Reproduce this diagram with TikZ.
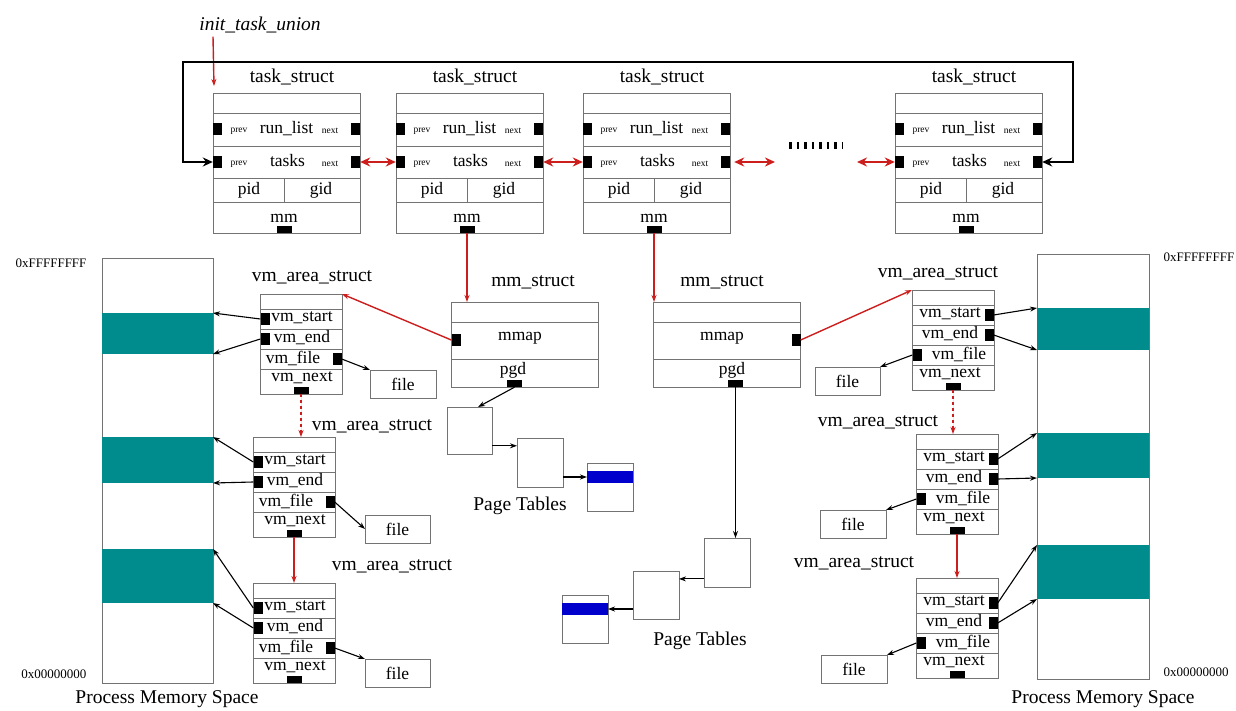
\documentclass[tikz,border=0pt]{standalone}
\usepackage{fontspec}
\setmainfont{Liberation Serif}
\usetikzlibrary{arrows.meta}
\definecolor{ptrred}{RGB}{205,30,30}
\definecolor{segteal}{RGB}{0,140,140}
\definecolor{pageblue}{RGB}{0,0,205}

% one task_struct: name, left x
\newcommand{\taskbox}[2]{%
  \node[box, anchor=north west, minimum width=147pt, minimum height=140pt] (#1) at (#2,93) {};
  \node[lbl] at (#2+79,77) {task\_struct};
  \foreach \yy in {113,146,178,202}
    \draw[sepline] (#2,\yy) -- (#2+147,\yy);
  \draw[sepline] (#2+71,178) -- (#2+71,202);
  \node[sq] (#1-rp) at (#2+4.5,129.5) {};
  \node[sq] (#1-rn) at (#2+142.5,129.5) {};
  \node[sq] (#1-tp) at (#2+4.5,162) {};
  \node[sq] (#1-tn) at (#2+142.5,162) {};
  \node[ptr] (#1-mm) at (#2+71,229.5) {};
  \node[tag] at (#2+26,131) {prev};
  \node[tag] at (#2+117,131) {next};
  \node[txt] at (#2+73.5,129) {run\_list};
  \node[tag] at (#2+26,164) {prev};
  \node[tag] at (#2+117,164) {next};
  \node[txt] at (#2+74.5,161) {tasks};
  \node[txt] at (#2+36,190) {pid};
  \node[txt] at (#2+108,190) {gid};
  \node[txt] at (#2+71,218) {mm};
}

% one vm_area_struct: name, x, y, start/end square, file square, text, file text
\newcommand{\vmbox}[7]{%
  \node[box, anchor=north west, minimum width=82pt, minimum height=100pt] (#1) at (#2,#3) {};
  \foreach \yy in {15,35,55,75}
    \draw[sepline] (#2,#3+\yy) -- (#2+82,#3+\yy);
  \node[sq] (#1-s) at (#2+#4,#3+25) {};
  \node[sq] (#1-e) at (#2+#4,#3+45) {};
  \node[sq] (#1-f) at (#2+#5,#3+65) {};
  \node[ptr] (#1-n) at (#2+41,#3+96.5) {};
  \node[txt] at (#2+#6,#3+24) {vm\_start};
  \node[txt] at (#2+#6,#3+44) {vm\_end};
  \node[txt] at (#2+#7,#3+64) {vm\_file};
  \node[txt] at (#2+#6,#3+84) {vm\_next};
}

\begin{document}
\begin{tikzpicture}[x=1pt, y=-1pt, >={Stealth[length=7pt, width=5pt]},
  box/.style={draw=black!55, line width=0.8pt, inner sep=0pt, outer sep=0pt},
  sepline/.style={draw=black!55, line width=0.8pt},
  sq/.style={fill=black, inner sep=0pt, minimum width=9pt, minimum height=12pt},
  ptr/.style={fill=black, inner sep=0pt, minimum width=15pt, minimum height=7pt},
  band/.style={fill=segteal, inner sep=0pt, outer sep=0pt, anchor=north west, minimum width=111pt},
  pageband/.style={fill=pageblue, inner sep=0pt, outer sep=0pt, anchor=north west, minimum width=46pt, minimum height=12pt},
  lbl/.style={font=\fontsize{19.5}{22}\selectfont},
  txt/.style={font=\fontsize{17.5}{20}\selectfont},
  tag/.style={font=\fontsize{9.5}{10}\selectfont},
  addr/.style={font=\fontsize{13}{15}\selectfont},
  arr/.style={->, line width=1.1pt},
  redarr/.style={->, draw=ptrred, fill=ptrred, line width=1.4pt},
  dblred/.style={{Stealth[length=10pt, width=9pt]}-{Stealth[length=10pt, width=9pt]}, draw=ptrred, fill=ptrred, line width=2.4pt},
  ringline/.style={{Stealth[length=10pt, width=9pt]}-{Stealth[length=10pt, width=9pt]}, line width=2.6pt}]
  \useasboundingbox (0,0) rectangle (1236,711);

  % task list
  \taskbox{t1}{213}
  \taskbox{t2}{396}
  \taskbox{t3}{583}
  \taskbox{t4}{895}

  \node[lbl, font=\fontsize{19.5}{22}\selectfont\itshape] (itu) at (260,25) {init\_task\_union};
  \draw[redarr] (itu.south -| t1.north west) -- ([xshift=1pt, yshift=7pt]t1.north west);

  \coordinate (ringL) at (183,62);
  \coordinate (ringR) at (1073,62);
  \draw[ringline] (t1-tp.west) -| (ringL) -- (ringR) |- (t4-tn.east);

  \coordinate (gapA) at (775,162);
  \coordinate (gapB) at (857,162);
  \draw[dblred] (t1-tn.east) -- (t2-tp.west);
  \draw[dblred] (t2-tn.east) -- (t3-tp.west);
  \draw[dblred] ([xshift=4pt]t3-tn.east) -- (gapA);
  \draw[dblred] (gapB) -- (t4-tp.west);
  \coordinate (dotsA) at (789,146);
  \coordinate (dotsB) at (842,146);
  \draw[line width=7pt, dash pattern=on 2.5pt off 5pt] (dotsA) -- (dotsB);

  % mm_struct
  \node[box, anchor=north west, minimum width=147pt, minimum height=85pt] (ms1) at (451,302) {};
  \node[box, anchor=north west, minimum width=147pt, minimum height=85pt] (ms2) at (653,302) {};
  \foreach \yy in {322,359} {
    \draw[sepline] (451,\yy) -- (598,\yy);
    \draw[sepline] (653,\yy) -- (800,\yy);
  }
  \node[lbl] at (533,282) {mm\_struct};
  \node[lbl] at (722,282) {mm\_struct};
  \node[txt] at (520,338) {mmap};
  \node[txt] at (722,338) {mmap};
  \node[txt] at (513,370) {pgd};
  \node[txt] at (732,370) {pgd};
  \node[sq] (ms1-map) at (456,340) {};
  \node[sq] (ms2-map) at (796,340) {};
  \node[ptr] (ms1-pgd) at (514.5,383.5) {};
  \node[ptr] (ms2-pgd) at (735.5,383.5) {};

  \draw[redarr] (t2-mm.south) -- (t2-mm.south |- ms1.north);
  \draw[redarr] (t3-mm.south) -- (t3-mm.south |- ms2.north);

  % page tables
  \node[box, anchor=north west, minimum width=45pt, minimum height=47pt] (lpt1) at (447,407) {};
  \node[box, anchor=north west, minimum width=46pt, minimum height=49pt] (lpt2) at (517,438) {};
  \node[box, anchor=north west, minimum width=46pt, minimum height=48pt] (lpage) at (587,463) {};
  \node[pageband] (lpb) at (587,471) {};
  \node[lbl] at (520,506) {Page Tables};
  \draw[arr] (ms1-pgd.south) -- (lpt1.70);
  \draw[arr] (lpt1.east |- lpt2.144) -- (lpt2.144);
  \draw[arr] (lpt2.east |- lpb.west) -- (lpb.west);

  \node[box, anchor=north west, minimum width=46pt, minimum height=49pt] (rpt1) at (704,538) {};
  \node[box, anchor=north west, minimum width=46pt, minimum height=48pt] (rpt2) at (633,571) {};
  \node[box, anchor=north west, minimum width=46pt, minimum height=48pt] (rpage) at (562,595) {};
  \node[pageband] (rpb) at (562,603) {};
  \node[lbl] at (700,641) {Page Tables};
  \draw[arr, line width=1.6pt] (ms2-pgd.south) -- (ms2-pgd.south |- rpt1.north);
  \draw[arr] (rpt1.west |- rpt2.35) -- (rpt2.35);
  \draw[arr] (rpt2.west |- rpb.east) -- (rpb.east);

  % process memory spaces
  \node[box, anchor=north west, minimum width=111pt, minimum height=425pt] (lmem) at (102,258) {};
  \node[band, minimum height=41pt] (lb1) at (102,313) {};
  \node[band, minimum height=46pt] (lb2) at (102,437) {};
  \node[band, minimum height=54pt] (lb3) at (102,549) {};
  \node[addr, anchor=east] at (90,263) {0xFFFFFFFF};
  \node[addr, anchor=east] at (90,674) {0x00000000};
  \node[lbl] at (167,699) {Process Memory Space};

  \node[box, anchor=north west, minimum width=112pt, minimum height=425pt] (rmem) at (1037,254) {};
  \node[band, minimum width=112pt, minimum height=42pt] (rb1) at (1037,308) {};
  \node[band, minimum width=112pt, minimum height=45pt] (rb2) at (1037,433) {};
  \node[band, minimum width=112pt, minimum height=54pt] (rb3) at (1037,545) {};
  \node[addr, anchor=west] at (1160,257) {0xFFFFFFFF};
  \node[addr, anchor=west] at (1160,672) {0x00000000};
  \node[lbl] at (1103,699) {Process Memory Space};

  % vm areas, left process
  \vmbox{vl1}{260}{294}{5}{77}{42}{33}
  \vmbox{vl2}{253}{437}{5}{77}{42}{33}
  \vmbox{vl3}{253}{583}{5}{77}{42}{33}
  \node[lbl] at (312,277) {vm\_area\_struct};
  \node[lbl] at (372,426) {vm\_area\_struct};
  \node[lbl] at (392,566) {vm\_area\_struct};
  \node[box, txt, minimum width=66pt, minimum height=28pt] (lf1) at (403,384) {file};
  \node[box, txt, minimum width=65pt, minimum height=28pt] (lf2) at (397.5,529) {file};
  \node[box, txt, minimum width=65pt, minimum height=28pt] (lf3) at (397.5,673) {file};

  \draw[redarr] (ms1-map.west) -- (vl1.north east);
  \draw[redarr, dashed] (vl1-n.south) -- (vl1-n.south |- vl2.north);
  \draw[redarr] (vl2-n.south) -- (vl2-n.south |- vl3.north);
  \draw[arr] (vl1-s.west) -- (lb1.north east);
  \draw[arr] (vl1-e.west) -- (lb1.south east);
  \draw[arr] (vl2-s.west) -- (lb2.north east);
  \draw[arr] (vl2-e.west) -- (lb2.south east);
  \draw[arr] (vl3-s.west) -- (lb3.north east);
  \draw[arr] (vl3-e.west) -- (lb3.south east);
  \draw[arr] (vl1-f.east) -- (lf1.north west);
  \draw[arr] (vl2-f.east) -- (lf2.west);
  \draw[arr] (vl3-f.east) -- (lf3.north west);

  % vm areas, right process
  \vmbox{vr1}{912}{290}{77}{5}{38}{47}
  \vmbox{vr2}{916}{434}{77}{5}{38}{47}
  \vmbox{vr3}{916}{578}{77}{5}{38}{47}
  \node[lbl] at (938,273) {vm\_area\_struct};
  \node[lbl] at (878,422) {vm\_area\_struct};
  \node[lbl] at (854,563) {vm\_area\_struct};
  \node[box, txt, minimum width=65pt, minimum height=28pt] (rf1) at (847.5,381) {file};
  \node[box, txt, minimum width=66pt, minimum height=28pt] (rf2) at (853,524) {file};
  \node[box, txt, minimum width=66pt, minimum height=28pt] (rf3) at (854,669) {file};

  \draw[redarr] (ms2-map.east) -- (vr1.north west);
  \draw[redarr, dashed] (vr1-n.south) -- (vr1-n.south |- vr2.north);
  \draw[redarr] (vr2-n.south) -- (vr2-n.south |- vr3.north);
  \draw[arr] (vr1-s.east) -- (rb1.north west);
  \draw[arr] (vr1-e.east) -- (rb1.south west);
  \draw[arr] (vr2-s.east) -- (rb2.north west);
  \draw[arr] (vr2-e.east) -- (rb2.south west);
  \draw[arr] (vr3-s.east) -- (rb3.north west);
  \draw[arr] (vr3-e.east) -- (rb3.south west);
  \draw[arr] (vr1-f.west) -- (rf1.north east);
  \draw[arr] (vr2-f.west) -- (rf2.north east);
  \draw[arr] (vr3-f.west) -- (rf3.north east);
\end{tikzpicture}
\end{document}
